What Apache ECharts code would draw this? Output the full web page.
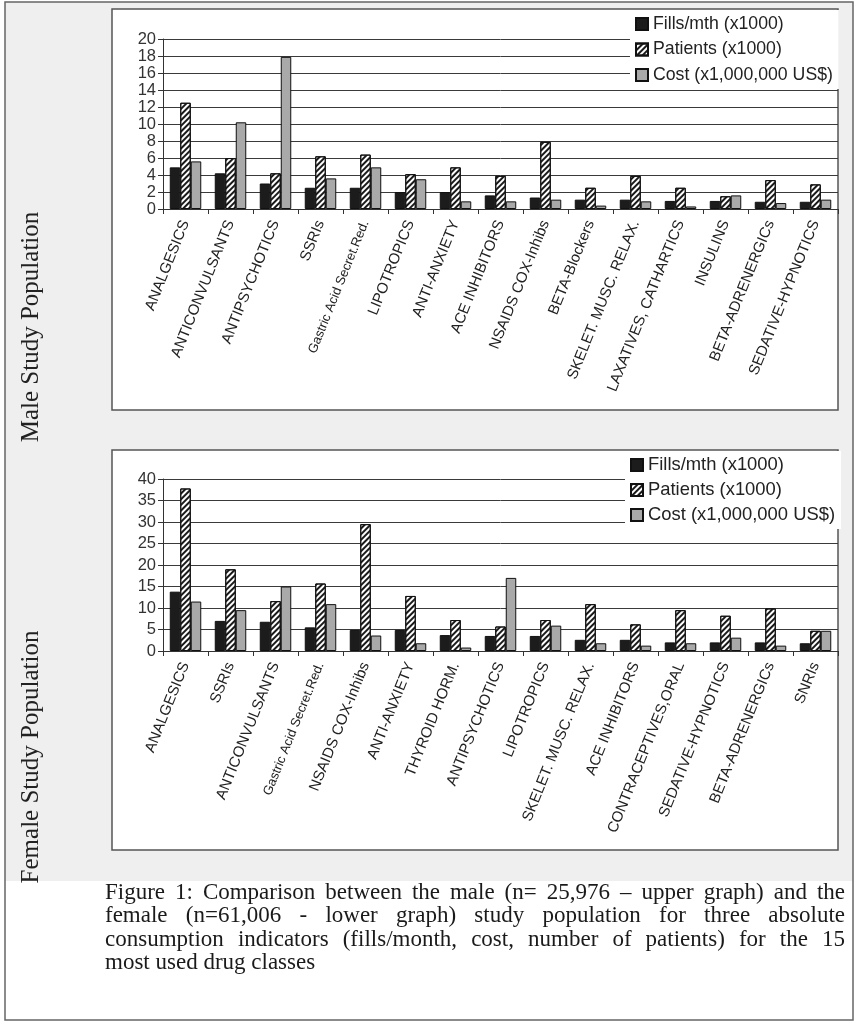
<!DOCTYPE html>
<html><head><meta charset="utf-8">
<script src="https://cdn.jsdelivr.net/npm/echarts@6/dist/echarts.min.js"></script>
<style>html,body{margin:0;padding:0;background:#fff;} #c{width:859px;height:1024px;}</style>
</head><body><div id="c"></div>
<script>
const seriesNames = ['Fills/mth (x1000)', 'Patients (x1000)', 'Cost (x1,000,000 US$)'];

const maleCategories = ['ANALGESICS','ANTICONVULSANTS','ANTIPSYCHOTICS','SSRIs','Gastric Acid Secret.Red.','LIPOTROPICS','ANTI-ANXIETY','ACE INHIBITORS','NSAIDS COX-Inhibs','BETA-Blockers','SKELET. MUSC. RELAX.','LAXATIVES, CATHARTICS','INSULINS','BETA-ADRENERGICs','SEDATIVE-HYPNOTICS'];
const maleFills    = [4.9, 4.2, 3.0, 2.5, 2.5, 2.0, 2.0, 1.6, 1.35, 1.1, 1.1, 0.95, 0.95, 0.85, 0.85];
const malePatients = [12.5, 6.0, 4.2, 6.2, 6.4, 4.1, 4.9, 3.9, 7.9, 2.5, 3.9, 2.5, 1.5, 3.4, 2.9];
const maleCost     = [5.6, 10.2, 17.9, 3.6, 4.9, 3.5, 0.9, 0.9, 1.1, 0.4, 0.9, 0.3, 1.6, 0.7, 1.1];
const maleTicks = {min: 0, max: 20, interval: 2};

const femaleCategories = ['ANALGESICS','SSRIs','ANTICONVULSANTS','Gastric Acid Secret.Red.','NSAIDS COX-Inhibs','ANTI-ANXIETY','THYROID HORM.','ANTIPSYCHOTICS','LIPOTROPICS','SKELET. MUSC. RELAX.','ACE INHIBITORS','CONTRACEPTIVES,ORAL','SEDATIVE-HYPNOTICS','BETA-ADRENERGICs','SNRIs'];
const femaleFills    = [13.8, 7.0, 6.8, 5.5, 4.9, 4.9, 3.7, 3.5, 3.5, 2.6, 2.6, 2.0, 2.0, 2.0, 1.8];
const femalePatients = [37.8, 19.0, 11.6, 15.7, 29.5, 12.8, 7.2, 5.7, 7.2, 10.9, 6.2, 9.5, 8.2, 9.9, 4.7];
const femaleCost     = [11.5, 9.5, 15.0, 10.9, 3.6, 1.8, 0.8, 17.0, 5.9, 1.8, 1.25, 1.8, 3.1, 1.25, 4.7];
const femaleTicks = {min: 0, max: 40, interval: 5};

const sideLabels = ['Male Study Population', 'Female Study Population'];
const captionLines = [
  'Figure 1: Comparison between the male (n= 25,976 \u2013 upper graph) and the',
  'female (n=61,006 - lower graph) study population for three absolute',
  'consumption indicators (fills/month, cost, number of patients) for the 15',
  'most used drug classes'
];

const SANS = '"Liberation Sans", Arial, sans-serif';
const SERIF = '"Liberation Serif", "Times New Roman", serif';

const chart = echarts.init(document.getElementById('c'), null, {renderer: 'canvas'});

const styles = [
  {color: '#1c1c1c', borderColor: '#111', borderWidth: 1},
  {color: '#ffffff', borderColor: '#111', borderWidth: 1,
   decal: {symbol: 'rect', symbolSize: 1, color: '#1a1a1a', dashArrayX: [1, 0], dashArrayY: [2, 2], rotation: -Math.PI / 4}},
  {color: '#a9a9a9', borderColor: '#111', borderWidth: 1}
];

function xAxisFor(cats, gi) {
  return {
    type: 'category', gridIndex: gi, data: cats, boundaryGap: true,
    axisLine: {lineStyle: {color: '#333', width: 1}},
    axisTick: {show: true, length: 5, lineStyle: {color: '#333'}},
    axisLabel: {
      interval: 0, rotate: 68, fontSize: 15, fontFamily: SANS, color: '#222', margin: 12,
      formatter: v => v.startsWith('Gastric') ? '{s|' + v + '}' : v,
      rich: {s: {fontSize: 13, fontFamily: SANS, color: '#222'}}
    }
  };
}
function yAxisFor(t, gi) {
  return {
    type: 'value', gridIndex: gi, min: t.min, max: t.max, interval: t.interval,
    axisLine: {show: true, lineStyle: {color: '#333', width: 1}},
    axisTick: {show: true, length: 5, lineStyle: {color: '#333'}},
    splitLine: {show: true, lineStyle: {color: '#3a3a3a', width: 1}},
    axisLabel: {fontSize: 16.5, fontFamily: SANS, color: '#333', margin: 7,
      showMinLabel: true, showMaxLabel: true}
  };
}
function seriesFor(arrs, gi) {
  return arrs.map((d, i) => ({
    name: seriesNames[i], type: 'bar', xAxisIndex: gi, yAxisIndex: gi, data: d,
    barGap: '0%', barCategoryGap: '30%', itemStyle: styles[i], emphasis: {disabled: true}
  }));
}
function legendAt(left, top, fs, gap) {
  return {
    data: seriesNames, orient: 'vertical', left: left, top: top, icon: 'rect',
    itemWidth: 12, itemHeight: 12, itemGap: gap, padding: [5, 6, 5, 5],
    backgroundColor: '#fff',
    textStyle: {fontSize: fs, fontFamily: SANS, color: '#222'}
  };
}

// justified caption built from measured words
const CAP_FONT = '23px ' + SERIF;
const ctx = document.createElement('canvas').getContext('2d');
ctx.font = CAP_FONT;
const capX0 = 105, capW = 740, capY0 = 893, capLH = 23.3;
const captionEls = [];
captionLines.forEach((line, li) => {
  const words = line.split(' ');
  const widths = words.map(w => ctx.measureText(w).width);
  const total = widths.reduce((a, b) => a + b, 0);
  const justify = li < captionLines.length - 1;
  const gap = justify ? (capW - total) / (words.length - 1) : ctx.measureText(' ').width;
  let x = capX0;
  words.forEach((w, i) => {
    captionEls.push({type: 'text', x: x, y: capY0 + li * capLH, z: 5,
      style: {text: w, font: CAP_FONT, fill: '#1a1a1a', verticalAlign: 'middle', align: 'left'}});
    x += widths[i] + gap;
  });
});

const option = {
  animation: false,
  backgroundColor: '#fff',
  grid: [
    {left: 163, top: 39, width: 675, height: 170, containLabel: false, outerBoundsMode: 'none'},
    {left: 163, top: 479, width: 675, height: 172, containLabel: false, outerBoundsMode: 'none'}
  ],
  xAxis: [xAxisFor(maleCategories, 0), xAxisFor(femaleCategories, 1)],
  yAxis: [yAxisFor(maleTicks, 0), yAxisFor(femaleTicks, 1)],
  legend: [legendAt(630, 10, 17.7, 7.5), legendAt(625, 451, 18.4, 7)],
  series: seriesFor([maleFills, malePatients, maleCost], 0)
    .concat(seriesFor([femaleFills, femalePatients, femaleCost], 1)),
  graphic: [
    {type: 'rect', z: -10, shape: {x: 5, y: 2, width: 848, height: 879}, style: {fill: '#efefef'}},
    {type: 'rect', z: -10, shape: {x: 5, y: 881, width: 848, height: 139}, style: {fill: '#ffffff'}},
    {type: 'rect', z: -9, shape: {x: 5, y: 2, width: 848, height: 1018}, style: {fill: 'none', stroke: '#666', lineWidth: 1.5}},
    {type: 'rect', z: -9, shape: {x: 112, y: 9, width: 726, height: 401}, style: {fill: '#fff', stroke: '#555', lineWidth: 1.5}},
    {type: 'rect', z: -9, shape: {x: 112, y: 450, width: 726, height: 400}, style: {fill: '#fff', stroke: '#555', lineWidth: 1.5}},
    {type: 'text', x: 31, y: 327, rotation: Math.PI / 2, z: 5,
     style: {text: sideLabels[0], font: '25px ' + SERIF, fill: '#222', align: 'center', verticalAlign: 'middle'}},
    {type: 'text', x: 31, y: 757, rotation: Math.PI / 2, z: 5,
     style: {text: sideLabels[1], font: '25px ' + SERIF, fill: '#222', align: 'center', verticalAlign: 'middle'}}
  ].concat(captionEls)
};
chart.setOption(option);
</script>
</body></html>
